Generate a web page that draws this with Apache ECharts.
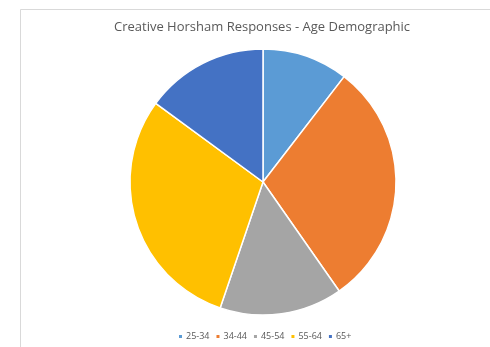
<!DOCTYPE html>
<html><head><meta charset="utf-8">
<script src="https://cdn.jsdelivr.net/npm/echarts@6/dist/echarts.min.js"></script>
<style>html,body{margin:0;padding:0;background:#fff}#c{width:490px;height:347px}</style>
</head><body><div id="c"></div>
<script>
const categories = ['25-34', '34-44', '45-54', '55-64', '65+'];
const values = [7, 20, 10, 20, 10];
const colors = ['#5b9bd5', '#ed7d31', '#a5a5a5', '#ffc000', '#4472c4'];
const titleText = 'Creative Horsham Responses - Age Demographic';

const chart = echarts.init(document.getElementById('c'), null, {renderer: 'canvas'});
chart.setOption({
  animation: false,
  backgroundColor: '#fff',
  graphic: [{
    type: 'polyline', silent: true,
    shape: {points: [[20.5, 400], [20.5, 9.5], [500, 9.5]]},
    style: {stroke: '#d9d9d9', lineWidth: 1, fill: null}
  }],
  title: {
    text: titleText, left: 109, top: 16,
    textStyle: {fontFamily: 'Open Sans', fontWeight: 'normal', fontSize: 13, color: '#595959'}
  },
  legend: {
    data: categories, top: 327, left: 172,
    icon: 'rect', itemWidth: 5, itemHeight: 5, itemGap: 5,
    textStyle: {fontFamily: 'Open Sans', fontSize: 9, color: '#595959', padding: [0, 0, 0, -2]}
  },
  series: [{
    type: 'pie', center: [263, 182], radius: 133, startAngle: 90, clockwise: true,
    label: {show: false}, labelLine: {show: false},
    itemStyle: {borderColor: '#fff', borderWidth: 1.5},
    data: categories.map((c, i) => ({name: c, value: values[i], itemStyle: {color: colors[i]}}))
  }]
});
</script></body></html>
